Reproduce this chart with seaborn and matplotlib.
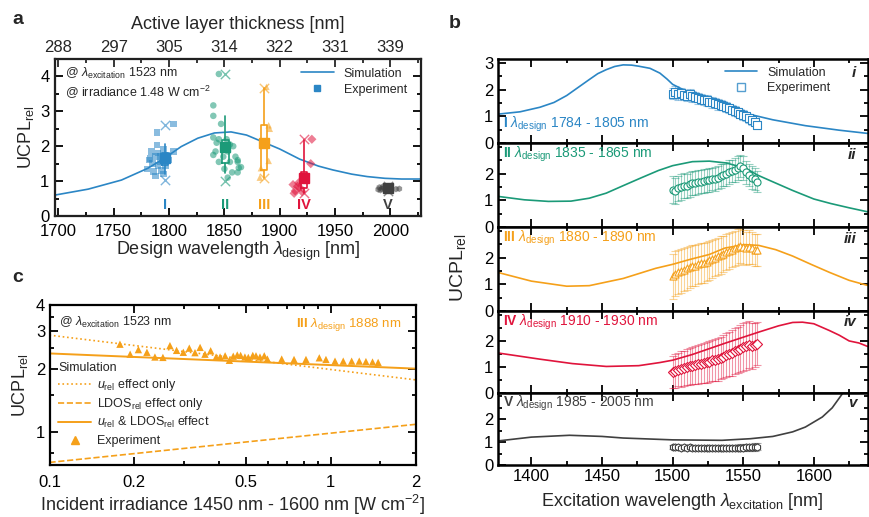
import numpy as np
import matplotlib
matplotlib.use('Agg')
import matplotlib.pyplot as plt
import seaborn as sns
from matplotlib.lines import Line2D
from matplotlib.ticker import FixedLocator, FixedFormatter, NullFormatter, MultipleLocator

sns.set_theme(style='ticks')
plt.rcParams['font.family'] = ['Liberation Sans', 'DejaVu Sans']
plt.rcParams['mathtext.fontset'] = 'custom'
plt.rcParams['mathtext.rm'] = 'Liberation Sans'
plt.rcParams['mathtext.it'] = 'Liberation Sans:italic'
plt.rcParams['mathtext.bf'] = 'Liberation Sans:bold'
plt.rcParams['axes.unicode_minus'] = False

# ---------------- colours ----------------
C_I, C_II, C_III, C_IV, C_V = '#2b86c5', '#1b9a78', '#f5a01a', '#e0143c', '#404040'

# ---------------- panel a data ----------------
design_ticks = [1700, 1750, 1800, 1850, 1900, 1950, 2000]
thickness_labels = ['288', '297', '305', '314', '322', '331', '339']
sim_a_wl = [1697, 1727, 1757, 1781, 1796, 1811, 1826, 1841, 1856, 1870, 1885, 1900,
            1918, 1935, 1948, 1965, 1979, 1995, 2010, 2028]
sim_a_ucpl = [0.60, 0.77, 1.03, 1.37, 1.66, 1.99, 2.23, 2.38, 2.41, 2.32, 2.12, 1.92,
              1.63, 1.43, 1.32, 1.20, 1.13, 1.08, 1.06, 1.06]

I_x = [1804, 1789, 1789, 1795, 1784, 1790, 1798, 1804, 1782, 1788, 1792, 1785, 1790,
       1797, 1780, 1786, 1793, 1788, 1795, 1783, 1800, 1794, 1792]
I_y = [2.64, 2.39, 2.04, 1.90, 1.85, 1.80, 1.75, 1.85, 1.60, 1.70, 1.55, 1.50, 1.45,
       1.45, 1.35, 1.28, 1.30, 1.15, 1.20, 1.65, 1.60, 1.62, 1.72]
II_x = [1845, 1840, 1840, 1847, 1840, 1845, 1843, 1840, 1842, 1855, 1858, 1852, 1849,
        1855, 1860, 1862, 1862, 1863, 1862, 1850, 1853, 1845, 1853, 1857, 1865]
II_y = [4.07, 3.17, 2.87, 2.64, 2.25, 2.20, 2.10, 1.75, 1.85, 2.05, 2.00, 2.20, 1.70,
        1.55, 1.70, 1.60, 1.55, 1.38, 1.25, 1.35, 1.85, 1.55, 1.10, 1.25, 1.40]
III_x = [1888, 1890, 1891, 1883, 1890, 1882]
III_y = [3.70, 2.60, 2.50, 1.37, 1.58, 1.10]
IV_x = [1929, 1928, 1912, 1916, 1914, 1918, 1913, 1920, 1917]
IV_y = [2.20, 1.50, 0.90, 0.85, 0.72, 0.82, 0.65, 0.70, 0.95]
V_x = [1990, 1992, 1991, 1994, 2005, 2008, 1989, 1993]
V_y = [0.82, 0.78, 0.74, 0.80, 0.77, 0.78, 0.76, 0.84]

group_names = ['I', 'II', 'III', 'IV', 'V']
group_pos = [1796, 1851, 1886, 1922, 1998]
box_q1 = [1.45, 1.51, 1.32, 0.81, 0.74]
box_med = [1.60, 1.90, 2.10, 1.00, 0.79]
box_q3 = [1.82, 2.18, 2.61, 1.27, 0.84]
box_lo = [1.20, 1.23, 1.08, 0.65, 0.72]
box_hi = [2.05, 2.87, 3.68, 2.18, 0.86]
box_mean = [1.65, 1.99, 2.09, 1.10, 0.80]
ext_max = [2.62, 4.07, 3.68, 2.20, 0.86]
ext_min = [1.03, 1.00, 1.08, 0.65, 0.72]

# ---------------- panel b data ----------------
sim_i_wl = [1376, 1392, 1406, 1416, 1425, 1433, 1441, 1447, 1453, 1459, 1465, 1471,
            1476, 1484, 1491, 1496, 1500, 1506, 1512, 1524, 1535, 1551, 1571, 1594,
            1618, 1638]
sim_i = [1.08, 1.17, 1.34, 1.52, 1.78, 2.08, 2.38, 2.60, 2.75, 2.87, 2.93, 2.92,
         2.88, 2.80, 2.62, 2.40, 2.20, 2.04, 1.90, 1.62, 1.42, 1.12, 0.87, 0.65,
         0.48, 0.36]
sim_ii_wl = [1376, 1395, 1412, 1428, 1441, 1453, 1465, 1478, 1490, 1500, 1514, 1526,
             1538, 1552, 1560, 1569, 1585, 1600, 1612, 1625, 1638]
sim_ii = [1.15, 1.02, 0.96, 0.97, 1.08, 1.27, 1.55, 1.85, 2.12, 2.30, 2.45, 2.47,
          2.40, 2.20, 1.95, 1.74, 1.37, 1.05, 0.88, 0.72, 0.57]
sim_iii_wl = [1376, 1400, 1425, 1441, 1465, 1488, 1500, 1512, 1526, 1537, 1551, 1561,
              1573, 1585, 1598, 1611, 1625, 1638]
sim_iii = [1.45, 1.12, 0.93, 0.95, 1.22, 1.60, 1.75, 1.93, 2.12, 2.36, 2.49, 2.46,
           2.30, 2.06, 1.75, 1.45, 1.15, 0.96]
sim_iv_wl = [1376, 1406, 1429, 1453, 1476, 1491, 1500, 1514, 1537, 1561, 1575, 1585,
             1592, 1600, 1611, 1618, 1625, 1632, 1638]
sim_iv = [1.54, 1.30, 1.13, 1.02, 1.05, 1.17, 1.26, 1.48, 1.91, 2.34, 2.58, 2.71,
          2.72, 2.66, 2.40, 2.22, 2.00, 1.92, 1.79]
sim_v_wl = [1376, 1400, 1427, 1450, 1465, 1500, 1535, 1555, 1571, 1585, 1594, 1606,
            1613, 1620]
sim_v = [1.05, 1.22, 1.30, 1.25, 1.18, 1.10, 1.08, 1.15, 1.25, 1.45, 1.66, 2.10,
         2.50, 3.10]

exc_wl = [1500, 1502, 1504, 1506, 1508, 1510, 1512, 1514, 1516, 1518, 1520, 1522,
          1524, 1526, 1528, 1530, 1532, 1534, 1536, 1538, 1540, 1542, 1544, 1546,
          1548, 1550, 1552, 1554, 1556, 1558, 1560]
exp_i = [1.85, 1.90, 1.82, 1.88, 1.80, 1.78, 1.82, 1.75, 1.72, 1.68, 1.65, 1.62,
         1.60, 1.55, 1.52, 1.50, 1.45, 1.42, 1.40, 1.35, 1.30, 1.25, 1.20, 1.15,
         1.10, 1.05, 1.00, 0.92, 0.85, 0.78, 0.68]
err_i = [0.20, 0.22, 0.20, 0.20, 0.18, 0.20, 0.22, 0.20, 0.18, 0.20, 0.20, 0.18,
         0.20, 0.18, 0.20, 0.18, 0.20, 0.18, 0.18, 0.20, 0.18, 0.18, 0.20, 0.18,
         0.18, 0.18, 0.16, 0.18, 0.16, 0.16, 0.15]
exp_ii = [1.40, 1.35, 1.45, 1.50, 1.55, 1.55, 1.60, 1.65, 1.65, 1.70, 1.70, 1.72,
          1.75, 1.75, 1.80, 1.80, 1.85, 1.90, 1.95, 2.00, 2.05, 2.10, 2.15, 2.22,
          2.28, 2.20, 2.05, 1.95, 1.85, 1.80, 1.70]
err_ii = [0.50, 0.50, 0.48, 0.50, 0.48, 0.45, 0.48, 0.45, 0.45, 0.45, 0.42, 0.45,
          0.42, 0.45, 0.42, 0.45, 0.42, 0.45, 0.42, 0.45, 0.45, 0.42, 0.45, 0.45,
          0.42, 0.45, 0.42, 0.40, 0.42, 0.40, 0.40]
exp_iii = [1.30, 1.40, 1.45, 1.50, 1.55, 1.60, 1.65, 1.70, 1.70, 1.75, 1.80, 1.80,
           1.85, 1.90, 1.95, 2.00, 2.05, 2.10, 2.15, 2.20, 2.25, 2.30, 2.35, 2.40,
           2.45, 2.40, 2.35, 2.40, 2.35, 2.30, 2.30]
err_iii = [0.85, 0.85, 0.82, 0.82, 0.80, 0.80, 0.78, 0.78, 0.78, 0.75, 0.75, 0.75,
           0.72, 0.72, 0.72, 0.70, 0.70, 0.70, 0.68, 0.68, 0.68, 0.66, 0.66, 0.66,
           0.65, 0.65, 0.62, 0.62, 0.60, 0.60, 0.60]
exp_iv = [0.80, 0.85, 0.90, 0.92, 0.95, 1.00, 1.02, 1.05, 1.08, 1.10, 1.12, 1.15,
          1.18, 1.20, 1.25, 1.28, 1.30, 1.35, 1.40, 1.45, 1.50, 1.55, 1.60, 1.65,
          1.70, 1.75, 1.80, 1.85, 1.80, 1.85, 1.90]
err_iv = [0.62, 0.65, 0.65, 0.68, 0.68, 0.70, 0.70, 0.72, 0.72, 0.74, 0.75, 0.76,
          0.78, 0.78, 0.80, 0.80, 0.82, 0.82, 0.84, 0.85, 0.86, 0.88, 0.88, 0.90,
          0.90, 0.92, 0.92, 0.90, 0.88, 0.85, 0.82]
exp_v = [0.78, 0.77, 0.78, 0.76, 0.77, 0.76, 0.77, 0.75, 0.76, 0.75, 0.76, 0.74,
         0.75, 0.74, 0.75, 0.73, 0.74, 0.73, 0.74, 0.73, 0.74, 0.74, 0.75, 0.75,
         0.76, 0.76, 0.77, 0.77, 0.78, 0.79, 0.80]
err_v = [0.10, 0.10, 0.10, 0.10, 0.10, 0.10, 0.10, 0.10, 0.10, 0.10, 0.10, 0.11,
         0.11, 0.11, 0.11, 0.11, 0.12, 0.12, 0.12, 0.12, 0.13, 0.13, 0.13, 0.14,
         0.14, 0.14, 0.15, 0.15, 0.15, 0.16, 0.16]

# ---------------- panel c data ----------------
irr_line = [0.1, 2.0]
u_only = [2.88, 1.77]
ldos_only = [0.72, 1.09]
both_eff = [2.36, 2.00]
irr_exp = [0.178, 0.1935, 0.207, 0.222, 0.237, 0.253, 0.268, 0.283, 0.299, 0.314,
           0.329, 0.343, 0.357, 0.374, 0.391, 0.404, 0.421, 0.436, 0.450, 0.465,
           0.478, 0.495, 0.509, 0.528, 0.542, 0.560, 0.580, 0.595, 0.669, 0.740,
           0.816, 0.910, 0.961, 1.035, 1.107, 1.186, 1.262, 1.333, 1.407, 1.473]
ucpl_exp = [2.61, 2.34, 2.46, 2.39, 2.27, 2.26, 2.57, 2.44, 2.39, 2.50, 2.38, 2.52,
            2.34, 2.43, 2.27, 2.27, 2.30, 2.19, 2.29, 2.32, 2.31, 2.27, 2.26, 2.31,
            2.30, 2.27, 2.30, 2.22, 2.22, 2.21, 2.21, 2.25, 2.21, 2.17, 2.17, 2.17,
            2.17, 2.16, 2.15, 2.14]

# ---------------- figure ----------------
W, H = 869, 517
fig = plt.figure(figsize=(W / 100, H / 100), dpi=100)


def rect(l, t, r, b):
    return [l / W, 1 - b / H, (r - l) / W, (b - t) / H]


def style(ax, top=True, lw=1.6):
    for s in ax.spines.values():
        s.set_linewidth(lw)
        s.set_color('black')
        s.set_visible(True)
    ax.tick_params(which='both', direction='in', top=top, right=True,
                   width=1.3, color='black', labelcolor='black', labelsize=12, pad=3)
    ax.tick_params(which='major', length=6)
    ax.tick_params(which='minor', length=3)
    ax.grid(False)
    ax.set_facecolor('white')


UCPL = r'UCPL$_{\rm rel}$'

# ================= panel a =================
axA = fig.add_axes(rect(55, 59, 421, 216))
style(axA, top=False)
axA.tick_params(axis='x', which='major', pad=6)
axA.tick_params(axis='y', which='major', pad=4)
sns.lineplot(x=sim_a_wl, y=sim_a_ucpl, ax=axA, color=C_I, linewidth=1.2, legend=False)

groups = [(I_x, I_y, 's', C_I), (II_x, II_y, 'o', C_II), (III_x, III_y, '^', C_III),
          (IV_x, IV_y, 'D', C_IV), (V_x, V_y, 'h', C_V)]
for (gx, gy, mk, col) in groups:
    sns.scatterplot(x=gx, y=gy, ax=axA, marker=mk, s=22, color=col, alpha=0.55,
                    edgecolor='none', legend=False, zorder=3)

for k in range(5):
    col = [C_I, C_II, C_III, C_IV, C_V][k]
    st = [dict(med=box_med[k], q1=box_q1[k], q3=box_q3[k], whislo=box_lo[k],
               whishi=box_hi[k], mean=box_mean[k], label=group_names[k])]
    axA.bxp(st, positions=[group_pos[k]], widths=5.5, showmeans=True, showcaps=False,
            showfliers=False, manage_ticks=False,
            boxprops=dict(color=col, linewidth=1.2),
            whiskerprops=dict(color=col, linewidth=1.2),
            medianprops=dict(color=col, linewidth=1.0),
            meanprops=dict(marker='s', markerfacecolor=col, markeredgecolor=col,
                           markersize=6.5))
    axA.scatter([group_pos[k], group_pos[k]], [ext_max[k], ext_min[k]], marker='x',
                s=45, color=col, alpha=0.6, linewidths=1.0, zorder=4)
    axA.text(group_pos[k], 0.32, group_names[k], color=col, fontsize=10.5,
             fontweight='bold', ha='center', va='center')

axA.set_xlim(1697, 2027.6)
axA.set_ylim(0, 4.5)
axA.xaxis.set_major_locator(FixedLocator(design_ticks))
axA.xaxis.set_minor_locator(MultipleLocator(25))
axA.yaxis.set_major_locator(FixedLocator([0, 1, 2, 3, 4]))
axA.yaxis.set_minor_locator(MultipleLocator(0.5))
axA.set_xlabel(r'Design wavelength $\lambda_{\rm design}$ [nm]', fontsize=13, labelpad=0)
axA.set_ylabel(UCPL, fontsize=13, labelpad=3)

axT = axA.twiny()
axT.set_xlim(axA.get_xlim())
axT.xaxis.set_major_locator(FixedLocator(design_ticks))
axT.xaxis.set_major_formatter(FixedFormatter(thickness_labels))
axT.xaxis.set_minor_locator(MultipleLocator(25))
axT.tick_params(which='both', direction='in', top=True, bottom=False, width=1.3,
                labelsize=12, pad=3)
axT.tick_params(which='major', length=6)
axT.tick_params(which='minor', length=3)
axT.set_xlabel('Active layer thickness [nm]', fontsize=13, labelpad=8)
axT.grid(False)

axA.text(0.027, 0.905, r'@ $\lambda_{\rm excitation}$ 1523 nm', transform=axA.transAxes,
         fontsize=9, va='center')
axA.text(0.027, 0.785, r'@ irradiance 1.48 W cm$^{-2}$', transform=axA.transAxes,
         fontsize=9, va='center')
hA = [Line2D([], [], color=C_I, lw=1.2),
      Line2D([], [], color=C_I, marker='s', ls='none', markersize=5)]
axA.legend(hA, ['Simulation', 'Experiment'], loc='upper right', frameon=False,
           fontsize=9, handlelength=2.6, borderaxespad=0.3, labelspacing=0.3,
           bbox_to_anchor=(0.985, 1.0))

# ================= panel b =================
tops = [59, 143, 227, 311, 393]
bots = [143, 227, 311, 393, 465]
b_sims = [(sim_i_wl, sim_i), (sim_ii_wl, sim_ii), (sim_iii_wl, sim_iii),
          (sim_iv_wl, sim_iv), (sim_v_wl, sim_v)]
b_exps = [(exp_i, err_i, 's'), (exp_ii, err_ii, 'o'), (exp_iii, err_iii, '^'),
          (exp_iv, err_iv, 'D'), (exp_v, err_v, 'h')]
b_cols = [C_I, C_II, C_III, C_IV, C_V]
b_text = [r'$\mathbf{I}$ $\lambda_{\rm design}$ 1784 - 1805 nm',
          r'$\mathbf{II}$ $\lambda_{\rm design}$ 1835 - 1865 nm',
          r'$\mathbf{III}$ $\lambda_{\rm design}$ 1880 - 1890 nm',
          r'$\mathbf{IV}$ $\lambda_{\rm design}$ 1910 - 1930 nm',
          r'$\mathbf{V}$ $\lambda_{\rm design}$ 1985 - 2005 nm']
b_roman = ['i', 'ii', 'iii', 'iv', 'v']
axesB = []
for k in range(5):
    ax = fig.add_axes(rect(497.5, tops[k], 867.5, bots[k]))
    style(ax, lw=1.8)
    col = b_cols[k]
    sx, sy = b_sims[k]
    sns.lineplot(x=sx, y=sy, ax=ax, color=col, linewidth=1.2, legend=False)
    ey, ee, mk = b_exps[k]
    ax.errorbar(exc_wl, ey, yerr=ee, fmt='none', ecolor=col, alpha=0.45,
                elinewidth=0.8, capsize=3, capthick=0.8, zorder=2)
    sns.scatterplot(x=exc_wl, y=ey, ax=ax, marker=mk, s=26, facecolor='white',
                    edgecolor=col, linewidth=0.8, legend=False, zorder=3)
    ax.set_xlim(1376, 1638)
    ax.set_ylim(0, 3.15)
    ax.xaxis.set_major_locator(FixedLocator([1400, 1450, 1500, 1550, 1600]))
    ax.xaxis.set_minor_locator(MultipleLocator(25))
    ax.yaxis.set_major_locator(FixedLocator([0, 1, 2, 3] if k == 0 else [0, 1, 2]))
    ax.yaxis.set_minor_locator(MultipleLocator(0.5))
    if k < 4:
        ax.tick_params(labelbottom=False)
    ty = 0.22 if k == 0 else 0.86
    ax.text(0.015, ty, b_text[k], transform=ax.transAxes, color=col, fontsize=10,
            va='center', ha='left')
    ax.text(0.97, 0.83 if k == 0 else 0.86, b_roman[k], transform=ax.transAxes,
            fontsize=11, fontweight='bold', fontstyle='italic', ha='right', va='center')
    axesB.append(ax)

hB = [Line2D([], [], color=C_I, lw=1.2),
      Line2D([], [], color=C_I, marker='s', ls='none', markersize=6,
             markerfacecolor='white', alpha=0.8)]
axesB[0].legend(hB, ['Simulation', 'Experiment'], loc='upper right', frameon=False,
                fontsize=9, handlelength=2.6, borderaxespad=0.2, labelspacing=0.3,
                bbox_to_anchor=(0.92, 1.0))
axesB[4].set_xlabel(r'Excitation wavelength $\lambda_{\rm excitation}$ [nm]',
                    fontsize=13, labelpad=5)
fig.text(458 / W, 1 - 268 / H, UCPL, rotation=90, fontsize=14, ha='center', va='center')

# ================= panel c =================
axC = fig.add_axes(rect(49.5, 305, 415.5, 465))
style(axC)
axC.set_xscale('log')
axC.set_yscale('log')
sns.lineplot(x=irr_line, y=u_only, ax=axC, color=C_III, linewidth=1.2, linestyle=':',
             legend=False)
sns.lineplot(x=irr_line, y=ldos_only, ax=axC, color=C_III, linewidth=1.2,
             linestyle='--', legend=False)
sns.lineplot(x=irr_line, y=both_eff, ax=axC, color=C_III, linewidth=1.4, legend=False)
sns.scatterplot(x=irr_exp, y=ucpl_exp, ax=axC, marker='^', s=28, color=C_III,
                edgecolor='none', legend=False, zorder=3)
axC.set_xlim(0.1, 2)
axC.set_ylim(0.7, 4)
axC.xaxis.set_major_locator(FixedLocator([0.1, 0.2, 0.5, 1, 2]))
axC.xaxis.set_major_formatter(FixedFormatter(['0.1', '0.2', '0.5', '1', '2']))
axC.xaxis.set_minor_locator(FixedLocator([0.3, 0.4, 0.6, 0.7, 0.8, 0.9, 1.5]))
axC.xaxis.set_minor_formatter(NullFormatter())
axC.yaxis.set_major_locator(FixedLocator([1, 2, 3, 4]))
axC.yaxis.set_major_formatter(FixedFormatter(['1', '2', '3', '4']))
axC.yaxis.set_minor_locator(FixedLocator([0.8, 1.5, 2.5, 3.5]))
axC.yaxis.set_minor_formatter(NullFormatter())
axC.tick_params(axis='x', which='major', pad=7)
axC.set_xlabel(r'Incident irradiance 1450 nm - 1600 nm [W cm$^{-2}$]', fontsize=13,
               labelpad=2)
axC.set_ylabel(UCPL, fontsize=13, labelpad=4)
axC.text(0.025, 0.89, r'@ $\lambda_{\rm excitation}$ 1523 nm', transform=axC.transAxes,
         fontsize=9, va='center')
axC.text(0.96, 0.88, r'$\mathbf{III}$ $\lambda_{\rm design}$ 1888 nm',
         transform=axC.transAxes, fontsize=9.5, va='center', ha='right', color=C_III)
hC = [Line2D([], [], color=C_III, lw=1.2, ls=':'),
      Line2D([], [], color=C_III, lw=1.2, ls='--'),
      Line2D([], [], color=C_III, lw=1.4)]
legC = axC.legend(hC, [r'$u_{\rm rel}$ effect only', r'LDOS$_{\rm rel}$ effect only',
                       r'$u_{\rm rel}$ & LDOS$_{\rm rel}$ effect'],
                  title='Simulation', alignment='left', loc='upper left',
                  bbox_to_anchor=(0.0, 0.7), frameon=False, fontsize=9,
                  title_fontsize=9, handlelength=2.6, labelspacing=0.25,
                  borderaxespad=0.3, handletextpad=0.5)
axC.add_artist(legC)
axC.legend([Line2D([], [], color=C_III, marker='^', ls='none', markersize=6)],
           ['Experiment'], loc='center left', bbox_to_anchor=(0.0, 0.15),
           frameon=False, fontsize=9, handlelength=2.6, borderaxespad=0.3,
           handletextpad=0.5)

# panel letters
fig.text(12 / W, 1 - 20 / H, 'a', fontsize=14, fontweight='bold', va='center')
fig.text(449 / W, 1 - 23 / H, 'b', fontsize=14, fontweight='bold', va='center')
fig.text(12 / W, 1 - 278 / H, 'c', fontsize=14, fontweight='bold', va='center')

fig.savefig('out.png', dpi=100, facecolor='white')
